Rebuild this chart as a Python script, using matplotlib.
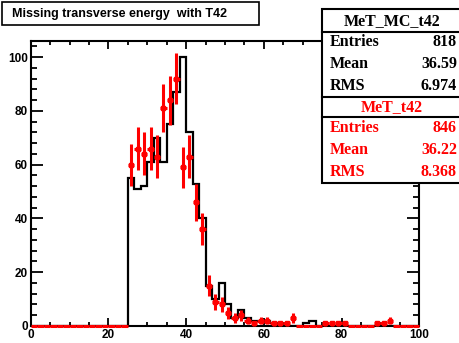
import numpy as np
import matplotlib
matplotlib.use("Agg")
import matplotlib.pyplot as plt
from matplotlib.patches import Rectangle
from matplotlib.lines import Line2D
from matplotlib.ticker import MultipleLocator

# ---- data ----
bin_edges = np.linspace(0, 100, 61)
mc_counts = [0]*15 + [55, 51, 52, 61, 70, 61, 75, 87, 100, 72, 53, 40, 15, 10, 16, 8, 3, 6, 3,
                     2, 2, 2, 1, 0, 0, 0, 0, 1, 2, 0, 0, 0, 0, 0, 0, 0, 0, 0, 0, 0, 0, 0, 0, 0, 0]
data_counts = [0]*15 + [60, 66, 64, 66, 63, 81, 84, 92, 59, 63, 46, 36, 15, 9, 8, 5, 3, 4, 2,
                       1, 2, 2, 1, 1, 1, 3, 0, 0, 0, 0, 1, 1, 1, 1, 0, 0, 0, 0, 1, 1, 2, 0, 0, 0, 0]
title = "Missing transverse energy  with T42"
stats_mc = ("MeT_MC_t42", [("Entries", "818"), ("Mean", "36.59"), ("RMS", "6.974")])
stats_data = ("MeT_t42", [("Entries", "846"), ("Mean", "36.22"), ("RMS", "8.368")])

W, H = 460, 343
fig = plt.figure(figsize=(W/100, H/100), dpi=100)
fig.patch.set_facecolor("white")

def fx(px):
    return px / W

def fy(py):
    return 1 - py / H

ax_l, ax_r, ax_t, ax_b = 30.7, 419.3, 41, 326
ax = fig.add_axes([fx(ax_l), fy(ax_b), fx(ax_r) - fx(ax_l), fy(ax_t) - fy(ax_b)])
ax.set_xlim(0, 100)
ax.set_ylim(0, 106)

mc = np.array(mc_counts, dtype=float)
dt = np.array(data_counts, dtype=float)
centers = 0.5 * (bin_edges[:-1] + bin_edges[1:])
halfw = 0.5 * (bin_edges[1] - bin_edges[0])

ax.stairs(mc, bin_edges, color="black", lw=1.6, baseline=0, zorder=2)

red = "#ff0000"
eb = ax.errorbar(centers, dt, xerr=halfw, yerr=np.sqrt(dt), fmt="none", ecolor=red,
                 elinewidth=2.2, capsize=0, zorder=5)
for art in eb.lines[2]:
    art.set_clip_on(False)
nz = dt > 0
ax.plot(centers[nz], dt[nz], "s", color=red, ms=3, zorder=6)

for s in ax.spines.values():
    s.set_linewidth(1.5)
    s.set_zorder(4)

ax.xaxis.set_major_locator(MultipleLocator(20))
ax.xaxis.set_minor_locator(MultipleLocator(5))
ax.yaxis.set_major_locator(MultipleLocator(20))
ax.yaxis.set_minor_locator(MultipleLocator(4))
ax.tick_params(axis="x", which="major", direction="in", length=6, width=1.3, top=True, pad=2)
ax.tick_params(axis="x", which="minor", direction="in", length=3, width=1.3, top=True)
ax.tick_params(axis="y", which="major", direction="in", length=8.3, width=1.3, right=True, pad=2)
ax.tick_params(axis="y", which="minor", direction="in", length=4.2, width=1.3, right=True)
for lab in ax.get_xticklabels() + ax.get_yticklabels():
    lab.set_fontfamily("Liberation Sans")
    lab.set_fontweight("bold")
    lab.set_fontsize(8.5)

# title box
fig.add_artist(Rectangle((fx(2), fy(25)), fx(259) - fx(2), fy(2) - fy(25), transform=fig.transFigure,
                         facecolor="white", edgecolor="black", lw=1.2, zorder=10))
fig.text(fx(12), fy(13.5), title, family="Liberation Sans", weight="bold", fontsize=9,
         va="center", ha="left", zorder=11)

# stats box
bx_l, bx_r, bx_t, bx_b = 322, 461, 9, 183
fig.add_artist(Rectangle((fx(bx_l), fy(bx_b)), fx(bx_r) - fx(bx_l), fy(bx_t) - fy(bx_b),
                         transform=fig.transFigure, facecolor="white", edgecolor="black",
                         lw=1.5, zorder=10))
for yy in (31.7, 96.7, 117.3):
    fig.add_artist(Line2D([fx(bx_l), fx(bx_r)], [fy(yy), fy(yy)], transform=fig.transFigure,
                          color="black", lw=1.5, zorder=11))

def stats_block(hdr, rows, y_hdr, y_rows, color):
    fig.text(fx(392), fy(y_hdr), hdr, family="Liberation Serif", weight="bold", fontsize=11.5,
             color=color, ha="center", va="center", zorder=12)
    for (k, v), yy in zip(rows, y_rows):
        fig.text(fx(330), fy(yy), k, family="Liberation Serif", weight="bold", fontsize=11.5,
                 color=color, ha="left", va="center", zorder=12)
        fig.text(fx(457), fy(yy), v, family="Liberation Serif", weight="bold", fontsize=11.5,
                 color=color, ha="right", va="center", zorder=12)

stats_block(stats_mc[0], stats_mc[1], 20.7, [42, 64, 86], "black")
stats_block(stats_data[0], stats_data[1], 107, [128, 150, 172], red)

fig.savefig("out.png", dpi=100, facecolor="white")
